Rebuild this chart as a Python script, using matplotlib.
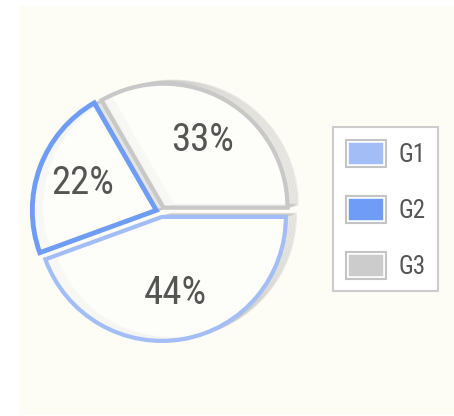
import matplotlib.pyplot as plt
from matplotlib.patches import Patch, Rectangle, Wedge
from matplotlib.legend_handler import HandlerTuple

groups = ["G1", "G2", "G3"]
values = [4, 2, 3]
edge_colors = ["#a3bef7", "#6f9df5", "#c8c8c8"]
edge_widths = [3, 3.5, 3]
legend_colors = ["#a3bef7", "#6f9df5", "#cccccc"]

W, H = 454, 416
fig = plt.figure(figsize=(W / 100, H / 100), dpi=100, facecolor="white")
ax = fig.add_axes([0, 0, 1, 1])

narrow = ["Roboto Condensed", "DejaVu Sans"]

wedges, texts, autotexts = ax.pie(
    values, center=(161, 204), radius=124, startangle=0, counterclock=False,
    explode=[5, 5, 5], autopct="%.0f%%", pctdistance=0.63,
    colors=["#fefefb"] * 3, frame=True,
    wedgeprops=dict(linewidth=0, alpha=0.75),
    textprops=dict(fontsize=28, color="#555555", family=narrow),
)

# pseudo 3d shadow: stacked offset outlines
for w, c, lw in zip(wedges, edge_colors, edge_widths):
    cx, cy = w.center
    for k in range(1, 8):
        ax.add_patch(Wedge((cx + k * 1.45, cy + k * 0.45), w.r, w.theta1, w.theta2,
                           fill=False, ec="#b8b8b8", lw=1.5, alpha=0.25, zorder=0.8))
    ax.add_patch(Wedge((cx, cy), w.r, w.theta1, w.theta2, fill=False,
                       ec=c, lw=lw, zorder=2))

ax.set_xlim(0, W)
ax.set_ylim(0, H)
ax.axis("off")
ax.add_patch(Rectangle((19, 1), 435, 409, fc="#fdfcf5", ec="none", zorder=0))

handles = [(Patch(fc=c, ec="white", lw=4), Patch(fc="none", ec="#c4c4c4", lw=1.5))
           for c in legend_colors]
leg = ax.legend(handles, groups, handler_map={tuple: HandlerTuple(ndivide=1, pad=0)},
                loc="upper left", bbox_to_anchor=(333 / W, 1 - 127 / H), borderaxespad=0,
                prop=dict(family=narrow, size=18), labelcolor="#555555",
                handlelength=1.6, handleheight=1.3, labelspacing=1.15,
                handletextpad=0.5, borderpad=0.5, fancybox=False, framealpha=1,
                facecolor="white", edgecolor="#cccccc")
leg.get_frame().set_linewidth(1.5)

fig.savefig("out.png", dpi=100, facecolor="white")
